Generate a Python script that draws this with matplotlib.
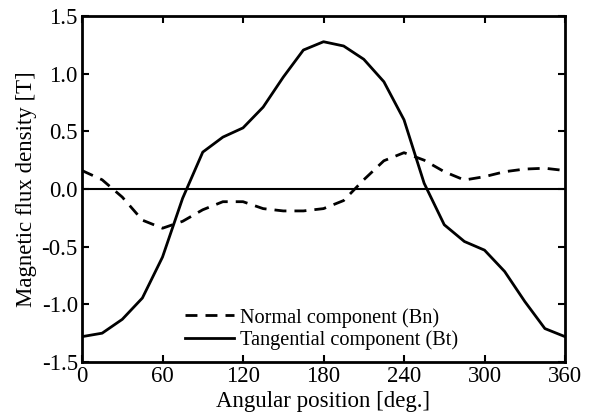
import matplotlib
matplotlib.use("Agg")
import matplotlib.pyplot as plt

plt.rcParams['font.family'] = ['Liberation Serif', 'DejaVu Serif']
plt.rcParams['axes.unicode_minus'] = False
plt.rcParams['mathtext.fontset'] = 'stix'

angle = [0, 15, 30, 45, 60, 75, 90, 105, 120, 135, 150, 165, 180, 195, 210,
         225, 240, 255, 270, 285, 300, 315, 330, 345, 360]
bt = [-1.28, -1.25, -1.13, -0.945, -0.59, -0.08, 0.32, 0.45, 0.53, 0.71, 0.97,
      1.205, 1.277, 1.24, 1.125, 0.93, 0.60, 0.05, -0.31, -0.455, -0.53, -0.715,
      -0.975, -1.21, -1.28]
bn = [0.16, 0.08, -0.07, -0.27, -0.34, -0.28, -0.18, -0.11, -0.11, -0.17, -0.19,
      -0.19, -0.17, -0.10, 0.08, 0.245, 0.315, 0.25, 0.15, 0.078, 0.107, 0.15,
      0.173, 0.18, 0.16]
xticks = [0, 60, 120, 180, 240, 300, 360]
yticks = [-1.5, -1.0, -0.5, 0.0, 0.5, 1.0, 1.5]

fig = plt.figure(figsize=(5.93, 4.19), dpi=100)
ax = fig.add_axes([0.1383, 0.136, 0.8145, 0.8258])

ax.axhline(0, color='black', lw=1.5, zorder=1)
ax.plot(angle, bn, color='black', lw=2.0, ls=(0, (4.3, 2.9)), label='Normal component (Bn)')
ax.plot(angle, bt, color='black', lw=2.0, ls='-', label='Tangential component (Bt)')

ax.set_xlim(0, 360)
ax.set_ylim(-1.5, 1.5)
ax.set_xticks(xticks)
ax.set_yticks(yticks)
ax.set_yticklabels([f"{v:.1f}" for v in yticks])
ax.tick_params(direction='in', top=True, right=True, length=5, width=1.5,
               labelsize=16.5, pad=3)
for s in ax.spines.values():
    s.set_linewidth(2.0)

ax.set_xlabel('Angular position [deg.]', fontsize=16.5, labelpad=3)
ax.set_ylabel('Magnetic flux density [T]', fontsize=16.5, labelpad=3)

ax.legend(loc='lower left', bbox_to_anchor=(0.196, 0.012), frameon=False,
          fontsize=14.6, handlelength=2.45, handletextpad=0.25, labelspacing=0.12,
          borderaxespad=0)

fig.savefig('out.png', dpi=100)
